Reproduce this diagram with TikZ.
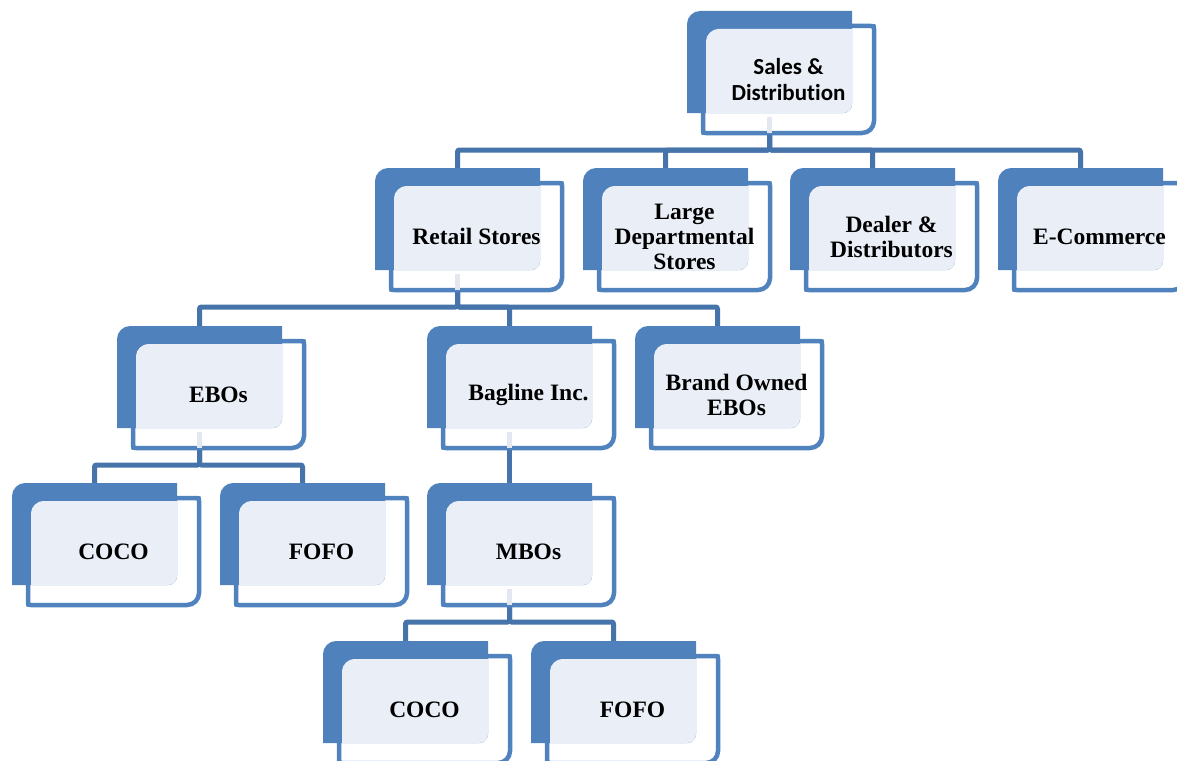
\documentclass[tikz,border=0pt]{standalone}
\usepackage{fontspec}
\setmainfont{Liberation Serif}
\newfontfamily\calibfont[Ligatures=NoCommon]{Carlito}
\definecolor{dk}{HTML}{4F81BD}
\definecolor{olc}{HTML}{5082BE}
\definecolor{lt}{HTML}{EAEFF7}
\definecolor{cn}{HTML}{4673AA}
\definecolor{faintc}{HTML}{E3E8F0}
\tikzset{
  tx/.style={font=\bfseries\fontsize{23.5}{25}\selectfont, align=center, inner sep=0pt, text=black},
  txs/.style={font=\calibfont\bfseries\fontsize{23}{26}\selectfont, align=center, inner sep=0pt, text=black},
  conn/.style={draw=cn, line width=5pt, rounded corners=2pt},
  outl/.style={draw=olc, fill=white, line width=4.5pt},
  faintbar/.style={draw=faintc, line width=5pt},
}
% \orgbox[style]{name}{x0}{y0}{text}
\newcommand\orgbox[5][tx]{%
  \draw[outl] (#3+16,#4+18) -- (#3+16,#4+119) .. controls (#3+16,#4+122) .. (#3+19,#4+122)
     -- (#3+175,#4+122) .. controls (#3+181.6,#4+122) and (#3+187,#4+116.6) .. (#3+187,#4+110)
     -- (#3+187,#4+18) .. controls (#3+187,#4+15) .. (#3+184,#4+15) -- (#3+16,#4+15) -- cycle;
  \fill[dk] (#3,#4+102) -- (#3,#4+13) .. controls (#3,#4+6) and (#3+6,#4) .. (#3+13,#4)
     -- (#3+165,#4) -- (#3+165,#4+93) .. controls (#3+165,#4+98) and (#3+161,#4+102) .. (#3+156,#4+102) -- cycle;
  \fill[lt] (#3+19,#4+102) -- (#3+19,#4+30) .. controls (#3+19,#4+23.4) and (#3+25.6,#4+18) .. (#3+31,#4+18)
     -- (#3+165,#4+18) -- (#3+165,#4+93) .. controls (#3+165,#4+98) and (#3+161,#4+102) .. (#3+156,#4+102) -- cycle;
  \node[#1] (#2) at (#3+101.5,#4+68.5) {#5};
}
\newcommand\orgcoords[3]{%
  \coordinate (#1-top) at (#2+82.5,#3);
  \coordinate (#1-bot) at (#2+82.5,#3+122);
  \coordinate (#1-fa) at (#2+82.5,#3+106);
}
\begin{document}
\begin{tikzpicture}[x=1pt,y=-1pt]
\useasboundingbox (0,0) rectangle (1177,760);
\clip (0,0) rectangle (1177,760);
% coordinates
\orgcoords{sales}{687}{11}
\orgcoords{retail}{375}{168}
\orgcoords{large}{583}{168}
\orgcoords{dealer}{790}{168}
\orgcoords{ecom}{998}{168}
\orgcoords{ebos}{117}{326}
\orgcoords{bagline}{427}{326}
\orgcoords{brand}{635}{326}
\orgcoords{cocoa}{12}{483}
\orgcoords{fofoa}{220}{483}
\orgcoords{mbos}{427}{483}
\orgcoords{cocob}{323}{641}
\orgcoords{fofob}{531}{641}
% connectors
\foreach \c in {retail,large,dealer,ecom}
  \draw[conn] (sales-bot) -- ++(0,17) -| (\c-top);
\foreach \c in {ebos,bagline,brand}
  \draw[conn] (retail-bot) -- ++(0,17) -| (\c-top);
\foreach \c in {cocoa,fofoa}
  \draw[conn] (ebos-bot) -- ++(0,17) -| (\c-top);
\draw[conn] (bagline-bot) -- (mbos-top);
\foreach \c in {cocob,fofob}
  \draw[conn] (mbos-bot) -- ++(0,17) -| (\c-top);
% boxes
\orgbox[txs]{sales}{687}{11}{Sales \&\\Distribution}
\orgbox{retail}{375}{168}{Retail Stores}
\orgbox{large}{583}{168}{Large\\Departmental\\Stores}
\orgbox{dealer}{790}{168}{Dealer \&\\Distributors}
\orgbox{ecom}{998}{168}{E-Commerce}
\orgbox{ebos}{117}{326}{EBOs}
\orgbox{bagline}{427}{326}{Bagline Inc.}
\orgbox{brand}{635}{326}{Brand Owned\\EBOs}
\orgbox{cocoa}{12}{483}{COCO}
\orgbox{fofoa}{220}{483}{FOFO}
\orgbox{mbos}{427}{483}{MBOs}
\orgbox{cocob}{323}{641}{COCO}
\orgbox{fofob}{531}{641}{FOFO}
% faint connector stubs inside parent boxes
\foreach \p in {sales,retail,ebos,bagline,mbos}
  \draw[faintbar] (\p-fa) -- (\p-bot);
\end{tikzpicture}
\end{document}
